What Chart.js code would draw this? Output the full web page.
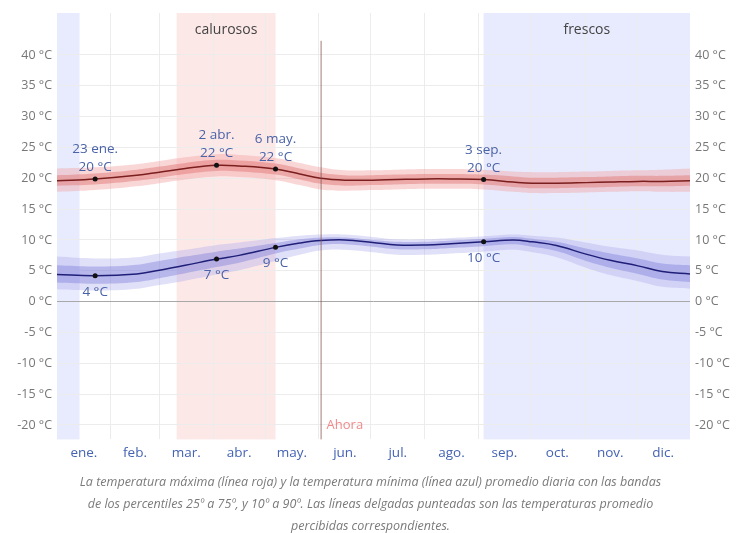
<!DOCTYPE html>
<html>
<head>
<meta charset="utf-8">
<script src="https://cdn.jsdelivr.net/npm/chart.js@4/dist/chart.umd.min.js"></script>
<style>
  html, body { margin: 0; padding: 0; background: #fff; }
  #wrap { width: 741px; height: 533px; }
</style>
</head>
<body>
<div id="wrap"><canvas id="grafico" width="741" height="533"></canvas></div>
<script>
// dias del año (0 = 1 ene.)
const dias = [0, 22, 46, 59, 74, 92, 105, 126, 140, 152, 166, 182, 196, 213, 227, 246, 263, 274, 288, 305, 319, 335, 349, 365];

// temperatura máxima
const maxMedia = [19.6, 19.9, 20.5, 21.0, 21.6, 22.1, 22.0, 21.5, 20.7, 20.0, 19.7, 19.7, 19.8, 19.9, 19.9, 19.8, 19.4, 19.2, 19.2, 19.3, 19.4, 19.5, 19.5, 19.6];
const maxP75 = [20.5, 20.8, 21.4, 21.9, 22.5, 23.0, 22.9, 22.4, 21.6, 20.9, 20.5, 20.5, 20.6, 20.7, 20.7, 20.6, 20.3, 20.1, 20.1, 20.2, 20.3, 20.4, 20.4, 20.5];
const maxP25 = [18.8, 19.0, 19.6, 20.1, 20.7, 21.2, 21.1, 20.6, 19.8, 19.1, 18.8, 18.9, 19.0, 19.1, 19.1, 19.0, 18.6, 18.4, 18.4, 18.5, 18.6, 18.7, 18.7, 18.8];
const maxP90 = [21.6, 21.8, 22.3, 22.8, 23.4, 23.9, 23.8, 23.3, 22.5, 21.8, 21.3, 21.3, 21.4, 21.5, 21.5, 21.4, 21.1, 21.0, 21.0, 21.1, 21.2, 21.3, 21.4, 21.6];
const maxP10 = [17.8, 18.1, 18.7, 19.2, 19.8, 20.3, 20.2, 19.7, 18.9, 18.2, 18.0, 18.1, 18.2, 18.3, 18.3, 18.2, 17.8, 17.6, 17.6, 17.7, 17.8, 17.9, 17.8, 17.8];

// temperatura mínima
const minMedia = [4.4, 4.2, 4.5, 5.1, 5.9, 6.9, 7.5, 8.8, 9.5, 9.9, 10.0, 9.6, 9.2, 9.2, 9.4, 9.7, 10.0, 9.7, 9.1, 7.7, 6.7, 5.8, 4.9, 4.5];
const minP90 = [7.3, 7.0, 7.2, 7.8, 8.4, 9.2, 9.6, 10.3, 10.7, 10.9, 10.9, 10.5, 10.1, 10.1, 10.3, 10.6, 10.9, 10.7, 10.4, 9.6, 8.9, 8.3, 7.6, 7.3];
const minP75 = [5.9, 5.7, 6.0, 6.6, 7.3, 8.1, 8.6, 9.5, 10.1, 10.4, 10.4, 10.0, 9.7, 9.7, 9.9, 10.2, 10.5, 10.2, 9.7, 8.6, 7.8, 7.0, 6.2, 5.9];
const minP25 = [3.1, 2.9, 3.2, 3.8, 4.6, 5.6, 6.3, 7.8, 8.6, 9.2, 9.3, 8.9, 8.5, 8.5, 8.7, 9.0, 9.3, 8.9, 8.2, 6.6, 5.5, 4.5, 3.6, 3.2];
const minP10 = [2.0, 1.8, 2.1, 2.7, 3.4, 4.4, 5.1, 6.6, 7.6, 8.3, 8.4, 8.0, 7.6, 7.6, 7.8, 8.1, 8.4, 8.0, 7.2, 5.5, 4.3, 3.3, 2.4, 2.1];

// puntos destacados
const altoDias = [22, 92, 126, 246];
const altoTemps = [19.9, 22.1, 21.5, 19.8];
const altoFechas = ['23 ene.', '2 abr.', '6 may.', '3 sep.'];
const altoTextos = ['20 °C', '22 °C', '22 °C', '20 °C'];
const bajoDias = [22, 92, 126, 246];
const bajoTemps = [4.2, 6.9, 8.8, 9.7];
const bajoTextos = ['4 °C', '7 °C', '9 °C', '10 °C'];

// temporadas
const calurosos = [69, 126];
const frescos = [[246, 365], [0, 13]];
const ahoraDia = 152;

// ejes
const inicioMes = [0, 31, 59, 90, 120, 151, 181, 212, 243, 273, 304, 334, 365];
const meses = ['ene.', 'feb.', 'mar.', 'abr.', 'may.', 'jun.', 'jul.', 'ago.', 'sep.', 'oct.', 'nov.', 'dic.'];
const yTicks = [-20, -15, -10, -5, 0, 5, 10, 15, 20, 25, 30, 35, 40];

const pts = (arr) => dias.map((d, i) => ({ x: d, y: arr[i] }));
const mitadMes = meses.map((m, i) => (inicioMes[i] + inicioMes[i + 1]) / 2);

const banda = (arr, color, fill, orden) => ({
  data: pts(arr), borderWidth: 0, pointRadius: 0, tension: 0.4,
  backgroundColor: color, fill: fill, order: orden
});

const fondoPlugin = {
  id: 'fondo',
  beforeDraw(chart) {
    const { ctx, chartArea, scales } = chart;
    const x = scales.x;
    ctx.save();
    ctx.fillStyle = 'rgba(250, 205, 205, 0.45)';
    ctx.fillRect(x.getPixelForValue(calurosos[0]), chartArea.top,
      x.getPixelForValue(calurosos[1]) - x.getPixelForValue(calurosos[0]), chartArea.height);
    ctx.fillStyle = 'rgba(205, 210, 250, 0.45)';
    frescos.forEach(f => {
      ctx.fillRect(x.getPixelForValue(f[0]), chartArea.top,
        x.getPixelForValue(f[1]) - x.getPixelForValue(f[0]), chartArea.height);
    });
    ctx.restore();
  },
  afterDatasetsDraw(chart) {
    const { ctx, chartArea, scales } = chart;
    const x = scales.x, y = scales.y;
    ctx.save();
    // Ahora
    const xa = x.getPixelForValue(ahoraDia);
    ctx.strokeStyle = 'rgba(130, 80, 80, 0.75)';
    ctx.lineWidth = 1;
    ctx.beginPath();
    ctx.moveTo(xa + 0.5, y.getPixelForValue(42.3));
    ctx.lineTo(xa + 0.5, chartArea.bottom);
    ctx.stroke();
    ctx.font = '13px "Open Sans", sans-serif';
    ctx.fillStyle = '#f08a8a';
    ctx.textAlign = 'left';
    ctx.textBaseline = 'middle';
    ctx.fillText('Ahora', xa + 6, y.getPixelForValue(-20));

    // temporadas
    ctx.font = '14px "Open Sans", sans-serif';
    ctx.fillStyle = '#444';
    ctx.textAlign = 'center';
    const ty = y.getPixelForValue(44);
    ctx.fillText('calurosos', (x.getPixelForValue(calurosos[0]) + x.getPixelForValue(calurosos[1])) / 2, ty);
    ctx.fillText('frescos', (x.getPixelForValue(frescos[0][0]) + x.getPixelForValue(frescos[0][1])) / 2, ty);

    // etiquetas de puntos
    ctx.font = '13.5px "Open Sans", sans-serif';
    ctx.fillStyle = '#4a63a8';
    ctx.textBaseline = 'alphabetic';
    chart.getDatasetMeta(10).data.forEach((p, i) => {
      ctx.fillText(altoTextos[i], p.x, p.y - 8);
      ctx.fillText(altoFechas[i], p.x, p.y - 26);
    });
    chart.getDatasetMeta(11).data.forEach((p, i) => {
      ctx.fillText(bajoTextos[i], p.x, p.y + 20);
    });
    ctx.restore();
  }
};

new Chart(document.getElementById('grafico'), {
  type: 'line',
  data: {
    datasets: [
      banda(maxP90, 'rgba(240, 160, 160, 0.42)', '+1', 6),
      banda(maxP10, 'transparent', false, 6),
      banda(maxP75, 'rgba(222, 105, 105, 0.42)', '+1', 5),
      banda(maxP25, 'transparent', false, 5),
      { data: pts(maxMedia), borderColor: '#7a1e1e', borderWidth: 1.5, pointRadius: 0, tension: 0.4, fill: false, order: 2 },
      banda(minP90, 'rgba(165, 165, 235, 0.35)', '+1', 6),
      banda(minP10, 'transparent', false, 6),
      banda(minP75, 'rgba(115, 115, 215, 0.38)', '+1', 5),
      banda(minP25, 'transparent', false, 5),
      { data: pts(minMedia), borderColor: '#1f1f78', borderWidth: 1.5, pointRadius: 0, tension: 0.4, fill: false, order: 2 },
      { type: 'scatter', data: altoDias.map((d, i) => ({ x: d, y: altoTemps[i] })), pointRadius: 2.5, backgroundColor: '#111', borderWidth: 0, order: 1 },
      { type: 'scatter', data: bajoDias.map((d, i) => ({ x: d, y: bajoTemps[i] })), pointRadius: 2.5, backgroundColor: '#111', borderWidth: 0, order: 1 }
    ]
  },
  options: {
    responsive: false,
    animation: false,
    layout: { padding: { top: 13, left: 0, right: 0, bottom: 0 } },
    plugins: {
      legend: { display: false },
      tooltip: { enabled: false },
      title: {
        display: true,
        position: 'bottom',
        text: [
          'La temperatura máxima (línea roja) y la temperatura mínima (línea azul) promedio diaria con las bandas',
          'de los percentiles 25º a 75º, y 10º a 90º. Las líneas delgadas punteadas son las temperaturas promedio',
          'percibidas correspondientes.'
        ],
        color: '#7a7a7a',
        font: { family: '"Open Sans", sans-serif', size: 12.5, style: 'italic', weight: 'normal', lineHeight: 1.75 },
        padding: { top: 4, bottom: -4 }
      }
    },
    scales: {
      x: {
        type: 'linear', min: 0, max: 365, position: 'bottom',
        afterBuildTicks: (s) => { s.ticks = inicioMes.slice(1, -1).map(v => ({ value: v })); },
        ticks: { display: false },
        grid: { color: '#ececec', drawTicks: false },
        border: { display: false },
        afterFit: (s) => { s.height = 0; }
      },
      x2: {
        type: 'linear', min: 0, max: 365, position: 'bottom',
        afterBuildTicks: (s) => { s.ticks = mitadMes.map(v => ({ value: v })); },
        ticks: {
          autoSkip: false, maxRotation: 0, padding: -2,
          color: '#4463b4',
          font: { family: '"Open Sans", sans-serif', size: 13.5 },
          callback: (v) => meses[mitadMes.indexOf(v)]
        },
        grid: { display: false },
        border: { display: false },
        afterFit: (s) => { s.height = 28; }
      },
      y: {
        min: -22.34, max: 46.81, position: 'left',
        afterBuildTicks: (s) => { s.ticks = yTicks.map(v => ({ value: v })); },
        ticks: {
          color: '#777', padding: 5,
          font: { family: '"Open Sans", sans-serif', size: 12.5 },
          callback: (v) => v + ' °C'
        },
        grid: { color: (c) => c.tick && c.tick.value === 0 ? '#a8a8a8' : '#ececec', drawTicks: false },
        border: { display: false },
        afterFit: (s) => { s.width = 57; }
      },
      y2: {
        min: -22.34, max: 46.81, position: 'right',
        afterBuildTicks: (s) => { s.ticks = yTicks.map(v => ({ value: v })); },
        ticks: {
          color: '#777', padding: 5,
          font: { family: '"Open Sans", sans-serif', size: 12.5 },
          callback: (v) => v + ' °C'
        },
        grid: { display: false, drawTicks: false },
        border: { display: false },
        afterFit: (s) => { s.width = 51; }
      }
    }
  },
  plugins: [fondoPlugin]
});
</script>
</body>
</html>
